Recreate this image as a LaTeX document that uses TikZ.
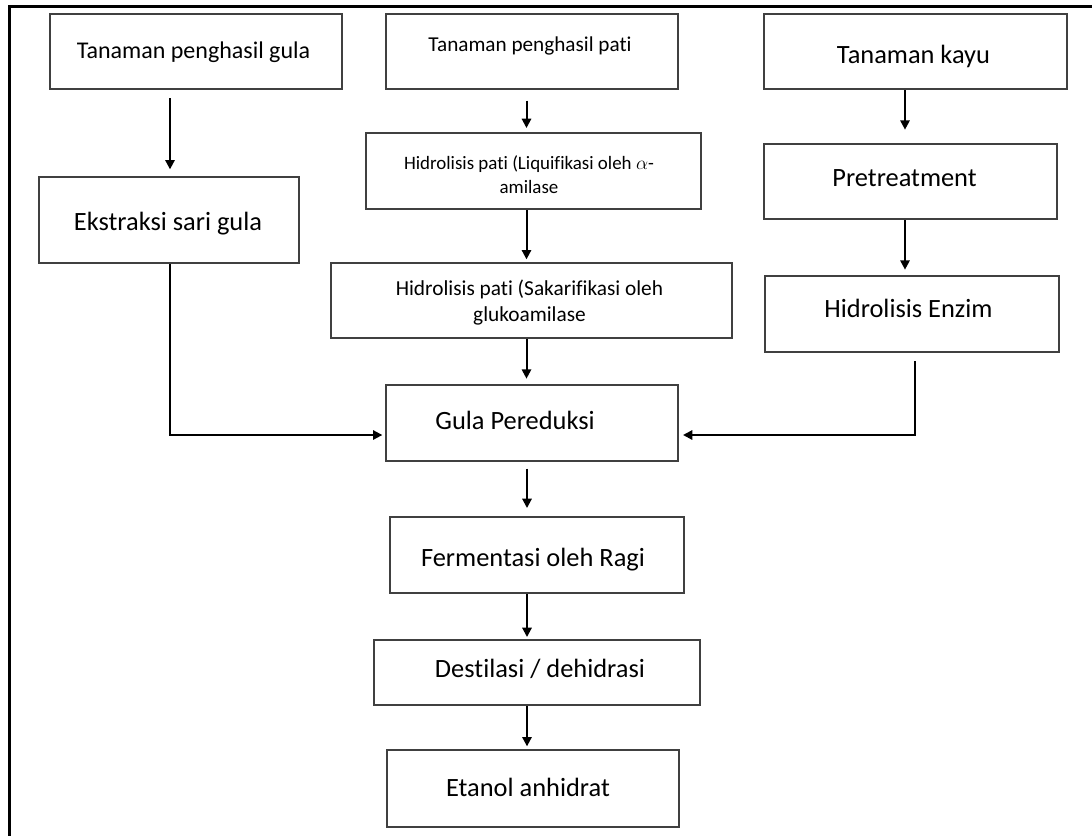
\documentclass[tikz,border=0pt]{standalone}
\usepackage{fontspec}
\setmainfont{Carlito}[Ligatures={NoCommon}]
\usetikzlibrary{arrows.meta,fit}
\begin{document}
\begin{tikzpicture}[x=0.75pt,y=-0.75pt,
  box/.style={draw=black!75,line width=1.5pt,inner sep=0pt},
  arr/.style={draw=black,line width=1.5pt,-{Triangle[length=7pt,width=7pt]}},
  lbl/.style={anchor=base,inner sep=0pt,text=black},
  big/.style={font=\fontsize{19.8}{24}\selectfont}]
\useasboundingbox (0,0) rectangle (1092,836);
\draw[line width=2.25pt] (1092,6) -- (9.5,6) -- (9.5,836);

% boxes
\node[box,fit={(50,14) (342,89)}] (A) {};
\node[box,fit={(386,14) (678,89)}] (B) {};
\node[box,fit={(764,14) (1067,89)}] (C) {};
\node[box,fit={(39,177) (299,263)}] (D) {};
\node[box,fit={(366,133) (701,209)}] (E) {};
\node[box,fit={(331,263) (732,338)}] (F) {};
\node[box,fit={(764,144) (1057,219)}] (G) {};
\node[box,fit={(765,276) (1059,352)}] (H) {};
\node[box,fit={(386,385) (678,461)}] (I) {};
\node[box,fit={(390,517) (684,593)}] (J) {};
\node[box,fit={(374,640) (700,705)}] (K) {};
\node[box,fit={(387,750) (679,827)}] (L) {};

% texts
\node[lbl,font=\fontsize{18}{22}\selectfont] (tA) at (193.5,58) {Tanaman penghasil gula};
\node[lbl,font=\fontsize{15.9}{19}\selectfont] (tB) at (530,51) {Tanaman penghasil pati};
\node[lbl,big] (tC) at (913.5,63) {Tanaman kayu};
\node[lbl,big] (tD) at (168,230) {Ekstraksi sari gula};
\node[lbl,align=center,font=\fontsize{14.2}{18}\selectfont] (tE) at (529,193) {Hidrolisis pati (Liquifikasi oleh $\alpha$-\\amilase};
\node[lbl,align=center,font=\fontsize{16}{19.5}\selectfont] (tF) at (529.5,321) {Hidrolisis pati (Sakarifikasi oleh\\glukoamilase};
\node[lbl,big] (tG) at (904.5,186) {Pretreatment};
\node[lbl,big] (tH) at (908.5,317) {Hidrolisis Enzim};
\node[lbl,big] (tI) at (515,429) {Gula Pereduksi};
\node[lbl,big] (tJ) at (533,566) {Fermentasi oleh Ragi};
\node[lbl,big] (tK) at (540,677) {Destilasi / dehidrasi};
\node[lbl,big] (tL) at (528,796) {Etanol anhidrat};

% connector columns
\coordinate (cA) at (170,0);
\coordinate (cB) at (526.5,0);
\coordinate (cC) at (905,0);
\coordinate (cH) at (915,0);
\coordinate (cM) at (527,0);
\coordinate (yI) at (0,435);

% connectors
\draw[arr,shorten <=6pt,shorten >=5pt] (A.south -| cA) -- (D.north -| cA);
\draw[arr,shorten <=8pt,shorten >=3pt] (B.south -| cB) -- (E.north -| cB);
\draw[arr,shorten >=2pt] (E.south -| cB) -- (F.north -| cB);
\draw[arr,shorten >=4pt] (F.south -| cB) -- (I.north -| cB);
\draw[arr,shorten >=10pt] (C.south -| cC) -- (G.north -| cC);
\draw[arr,shorten >=4pt] (G.south -| cC) -- (H.north -| cC);
\draw[arr,shorten <=6pt,shorten >=3pt] (H.south -| cH) |- (I.east |- yI);
\draw[arr,shorten >=2pt] (D.south -| cA) |- (I.west |- yI);
\draw[arr,shorten <=5pt,shorten >=6pt] (I.south -| cM) -- (J.north -| cM);
\draw[arr,shorten >=1.5pt] (J.south -| cM) -- (K.north -| cM);
\draw[arr,shorten >=2pt] (K.south -| cM) -- (L.north -| cM);
\end{tikzpicture}
\end{document}
